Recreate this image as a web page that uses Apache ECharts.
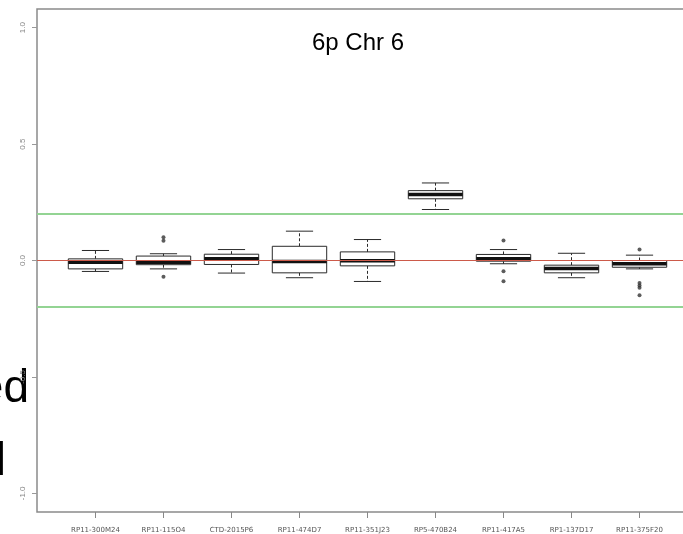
<!DOCTYPE html>
<html>
<head>
<meta charset="utf-8">
<script src="https://cdn.jsdelivr.net/npm/echarts@6/dist/echarts.min.js"></script>
<style>
html,body{margin:0;padding:0;background:#fff;overflow:hidden;}
#chart{width:705px;height:534px;}
</style>
</head>
<body>
<div id="chart"></div>
<script>
// ---- data ----
const categories = ["RP11-300M24","RP11-115O4","CTD-2015P6","RP11-474D7","RP11-351J23","RP5-470B24","RP11-417A5","RP1-137D17","RP11-375F20"];
const lowerWhisker = [-0.047,-0.036,-0.054,-0.074,-0.090,0.219,-0.014,-0.074,-0.036];
const q1Values     = [-0.036,-0.018,-0.017,-0.053,-0.023,0.265,-0.003,-0.053,-0.029];
const medianValues = [-0.007,-0.008, 0.007,-0.004,-0.001,0.283, 0.007,-0.034,-0.014];
const q3Values     = [ 0.007, 0.019, 0.027, 0.061, 0.037,0.300, 0.026,-0.020, 0.000];
const upperWhisker = [ 0.043, 0.029, 0.047, 0.126, 0.090,0.333, 0.047, 0.031, 0.023];
// outliers: [category index, value]
const outliers = [[1,0.085],[1,0.100],[1,-0.070],[6,0.086],[6,-0.046],[6,-0.089],[8,0.047],[8,-0.097],[8,-0.107],[8,-0.117],[8,-0.149]];
const yTickValues = [-1.0,-0.5,0.0,0.5,1.0];
const greenLines = [-0.2,0.2];
const redLine = [0];
const titleText = "6p Chr 6";
const slideTextLine1 = "ed";
const slideTextLine2 = "l";

// ---- build options ----
const positions = categories.map((c,i)=>i+1);
const boxRows = categories.map((c,i)=>[i+1, lowerWhisker[i], q1Values[i], medianValues[i], q3Values[i], upperWhisker[i]]);
const outlierRows = outliers.map(o=>[o[0]+1, o[1]]);

const chart = echarts.init(document.getElementById('chart'), null, {renderer:'canvas'});
const stroke = '#2a2a2a';
const frameLine = {show:true, onZero:false, lineStyle:{color:'#8a8a8a', width:1.5}};
const option = {
  animation:false,
  backgroundColor:'#fff',
  title:{
    text:titleText, left:358, top:31, textAlign:'center', padding:0,
    textStyle:{fontFamily:'Liberation Sans', fontSize:24, fontWeight:'normal', color:'#000'}
  },
  graphic:[
    {type:'text', x:29, y:389, style:{text:slideTextLine1, fill:'#000', font:'46px "Liberation Sans"', textAlign:'right', textVerticalAlign:'middle'}},
    {type:'text', x:6, y:462, style:{text:slideTextLine2, fill:'#000', font:'46px "Liberation Sans"', textAlign:'right', textVerticalAlign:'middle'}}
  ],
  grid:{left:37, top:9, width:661, height:503, show:true, borderColor:'#8a8a8a', borderWidth:1.5,
    backgroundColor:'transparent', containLabel:false, outerBoundsMode:'none'},
  xAxis:{
    type:'value', min:0.14, max:9.86, position:'bottom',
    axisLine:{show:false, onZero:false},
    splitLine:{show:false},
    axisTick:{show:true, customValues:positions, length:6, lineStyle:{color:'#888'}},
    axisLabel:{show:true, customValues:positions, margin:15, fontSize:7, fontFamily:'DejaVu Sans', color:'#555',
      formatter:(v)=>categories[Math.round(v)-1] || ''}
  },
  yAxis:{
    type:'value', min:-1.08, max:1.08, position:'left',
    axisLine:{show:false, onZero:false},
    splitLine:{show:false},
    axisTick:{show:true, customValues:yTickValues, length:5, lineStyle:{color:'#999'}},
    axisLabel:{show:true, customValues:yTickValues, rotate:90, margin:10, fontSize:8, fontFamily:'Liberation Sans', color:'#888',
      formatter:(v)=>v.toFixed(1)}
  },
  series:[
    {
      type:'custom', z:2,
      data:boxRows,
      encode:{x:0, y:[1,2,3,4,5]},
      renderItem:function(params, api){
        const i = api.value(0);
        const pLo = api.coord([i, api.value(1)]);
        const pA = api.coord([i, api.value(2)]);
        const pM = api.coord([i, api.value(3)]);
        const pB = api.coord([i, api.value(4)]);
        const pHi = api.coord([i, api.value(5)]);
        const w = api.size([0.8, 0])[0];
        const x = pM[0];
        const cap = w/4;
        const dashStyle = {stroke:stroke, lineWidth:1, lineDash:[3,2]};
        const solid = {stroke:stroke, lineWidth:1};
        return {type:'group', children:[
          {type:'line', shape:{x1:x,y1:pB[1],x2:x,y2:pHi[1]}, style:dashStyle},
          {type:'line', shape:{x1:x,y1:pA[1],x2:x,y2:pLo[1]}, style:dashStyle},
          {type:'line', shape:{x1:x-cap,y1:pHi[1],x2:x+cap,y2:pHi[1]}, style:solid},
          {type:'line', shape:{x1:x-cap,y1:pLo[1],x2:x+cap,y2:pLo[1]}, style:solid},
          {type:'rect', shape:{x:x-w/2, y:pB[1], width:w, height:pA[1]-pB[1]}, style:{fill:'#fff', stroke:stroke, lineWidth:1}},
          {type:'line', shape:{x1:x-w/2,y1:pM[1],x2:x+w/2,y2:pM[1]}, style:{stroke:'#111', lineWidth:3.5}}
        ]};
      }
    },
    {
      type:'scatter', z:3,
      data:outlierRows,
      symbol:'circle', symbolSize:4,
      itemStyle:{color:'#333'}
    },
    {
      type:'line', z:4, data:[], silent:true,
      markLine:{
        silent:true, symbol:'none', animation:false,
        label:{show:false},
        data:greenLines.map(v=>({yAxis:v, lineStyle:{color:'#93d493', width:2, type:'solid'}}))
             .concat(redLine.map(v=>({yAxis:v, lineStyle:{color:'#cc5a4a', width:1.2, type:'solid'}})))
      }
    }
  ]
};
chart.setOption(option);
</script>
</body>
</html>
